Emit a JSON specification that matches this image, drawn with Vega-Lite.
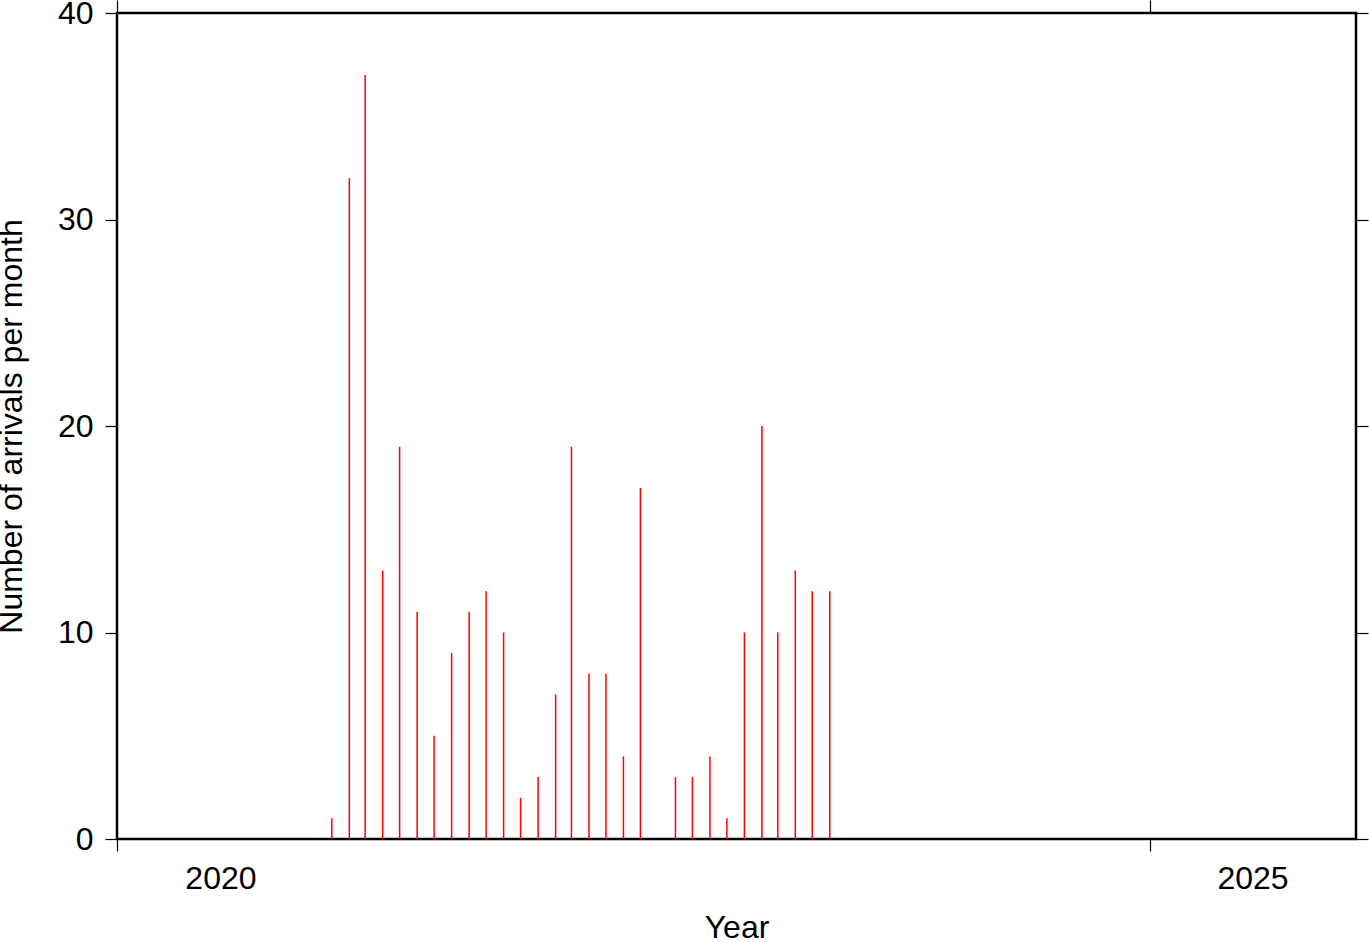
{
  "$schema": "https://vega.github.io/schema/vega-lite/v6.json",
  "width": 1239,
  "height": 826,
  "autosize": {"type": "none"},
  "padding": {"left": 117, "top": 13, "right": 13, "bottom": 103},
  "background": "white",
  "config": {
    "font": "Liberation Sans",
    "view": {"stroke": "black", "strokeWidth": 2.5},
    "axis": {
      "grid": false,
      "domain": false,
      "tickColor": "black",
      "tickWidth": 1.2,
      "tickSize": 12,
      "labelFontSize": 32,
      "labelColor": "black",
      "labelFont": "Liberation Sans",
      "labelFlush": false,
      "labelOverlap": false,
      "titleFontSize": 32,
      "titleFontWeight": "normal",
      "titleColor": "black",
      "titleFont": "Liberation Sans"
    }
  },
  "data": {
    "values": [
      {"month": "2021-01-15", "arrivals": 1},
      {"month": "2021-02-15", "arrivals": 32},
      {"month": "2021-03-15", "arrivals": 37},
      {"month": "2021-04-15", "arrivals": 13},
      {"month": "2021-05-15", "arrivals": 19},
      {"month": "2021-06-15", "arrivals": 11},
      {"month": "2021-07-15", "arrivals": 5},
      {"month": "2021-08-15", "arrivals": 9},
      {"month": "2021-09-15", "arrivals": 11},
      {"month": "2021-10-15", "arrivals": 12},
      {"month": "2021-11-15", "arrivals": 10},
      {"month": "2021-12-15", "arrivals": 2},
      {"month": "2022-01-15", "arrivals": 3},
      {"month": "2022-02-15", "arrivals": 7},
      {"month": "2022-03-15", "arrivals": 19},
      {"month": "2022-04-15", "arrivals": 8},
      {"month": "2022-05-15", "arrivals": 8},
      {"month": "2022-06-15", "arrivals": 4},
      {"month": "2022-07-15", "arrivals": 17},
      {"month": "2022-09-15", "arrivals": 3},
      {"month": "2022-10-15", "arrivals": 3},
      {"month": "2022-11-15", "arrivals": 4},
      {"month": "2022-12-15", "arrivals": 1},
      {"month": "2023-01-15", "arrivals": 10},
      {"month": "2023-02-15", "arrivals": 20},
      {"month": "2023-03-15", "arrivals": 10},
      {"month": "2023-04-15", "arrivals": 13},
      {"month": "2023-05-15", "arrivals": 12},
      {"month": "2023-06-15", "arrivals": 12}
    ]
  },
  "layer": [
    {
      "mark": {"type": "rule", "color": "#ff0000", "strokeWidth": 1.5},
      "encoding": {
        "x": {
          "field": "month",
          "type": "temporal",
          "scale": {
            "type": "utc",
            "domain": [
              {"year": 2020, "month": 1, "date": 1, "utc": true},
              {"year": 2026, "month": 1, "date": 1, "utc": true}
            ]
          },
          "axis": {
            "orient": "bottom",
            "title": "Year",
            "values": [
              {"year": 2020, "month": 1, "date": 1, "utc": true},
              {"year": 2020, "month": 7, "date": 2, "utc": true},
              {"year": 2025, "month": 1, "date": 1, "utc": true},
              {"year": 2025, "month": 7, "date": 2, "utc": true}
            ],
            "labelExpr": "utcmonth(datum.value) == 6 ? utcFormat(datum.value, '%Y') : ''",
            "tickOpacity": {"condition": {"test": "utcmonth(datum.value) == 6", "value": 0}, "value": 1},
            "labelPadding": 12,
            "titlePadding": 18
          }
        },
        "y": {
          "field": "arrivals",
          "type": "quantitative",
          "scale": {"domain": [0, 40], "nice": false, "zero": true},
          "axis": {
            "orient": "left",
            "title": "Number of arrivals per month",
            "values": [0, 10, 20, 30, 40],
            "labelPadding": 12,
            "titlePadding": 29
          }
        },
        "y2": {"datum": 0}
      }
    },
    {
      "mark": {"type": "rule", "strokeOpacity": 0},
      "encoding": {
        "x": {
          "field": "month",
          "type": "temporal",
          "axis": {
            "orient": "top",
            "title": null,
            "labels": false,
            "tickSize": 13,
            "values": [
              {"year": 2020, "month": 1, "date": 1, "utc": true},
              {"year": 2025, "month": 1, "date": 1, "utc": true}
            ]
          }
        },
        "y": {
          "field": "arrivals",
          "type": "quantitative",
          "axis": {
            "orient": "right",
            "title": null,
            "labels": false,
            "values": [0, 10, 20, 30, 40]
          }
        },
        "y2": {"datum": 0}
      }
    }
  ],
  "resolve": {"axis": {"x": "independent", "y": "independent"}}
}
